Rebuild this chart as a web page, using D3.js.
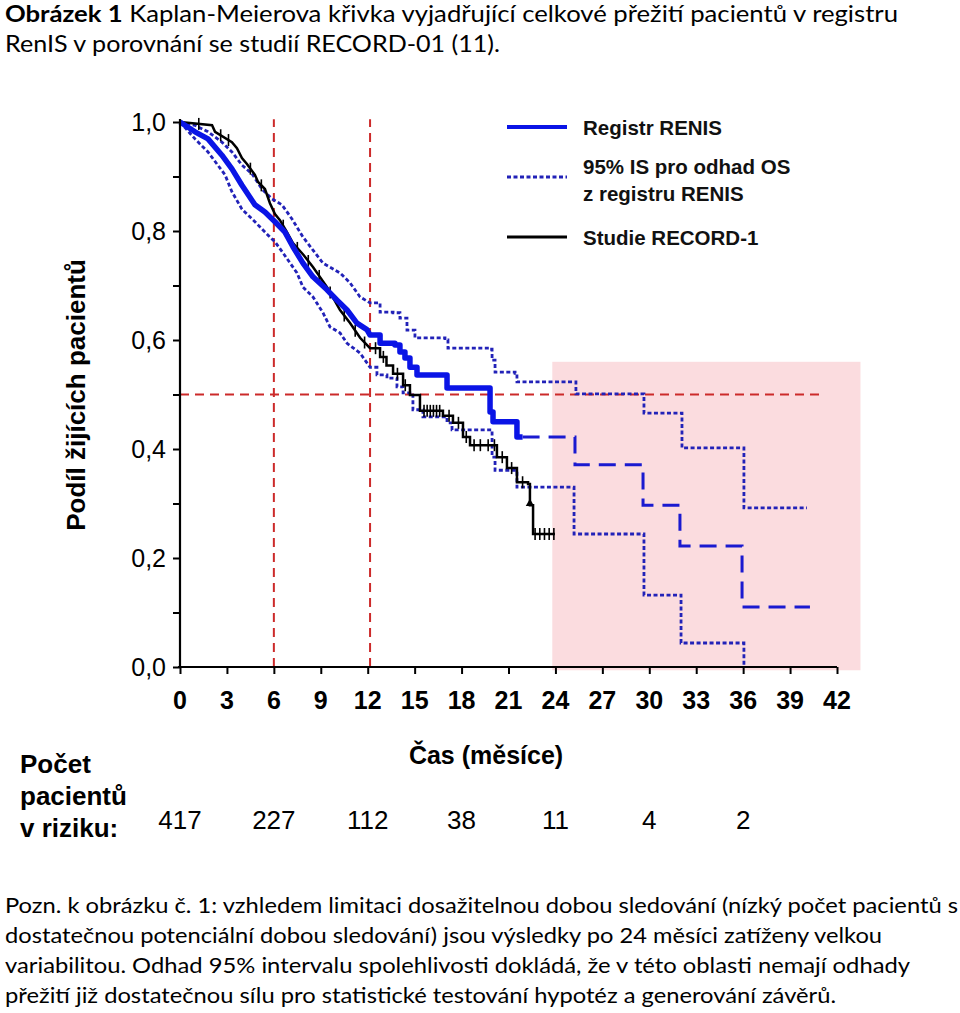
<!DOCTYPE html>
<html><head><meta charset="utf-8">
<script src="https://cdn.jsdelivr.net/npm/d3@7"></script>
<style>body{margin:0;background:#fff}</style>
</head><body>
<svg id="c" width="960" height="1013"></svg>
<script>
// ---------- DATA ----------
const xTicks = [0,3,6,9,12,15,18,21,24,27,30,33,36,39,42];
const yTicks = [0,0.2,0.4,0.6,0.8,1.0];
const yMinor = [0.1,0.3,0.5,0.7,0.9];
// RENIS Kaplan-Meier estimate [month, survival]
const renisKM = [[0,1.0],[0.96,0.982],[1.79,0.969],[2.68,0.939],[3.32,0.914],[3.96,0.884],[4.79,0.848],[5.43,0.835],[6.07,0.817],[6.71,0.798],[7.22,0.771],[7.86,0.741],[8.5,0.716],[9.4,0.692],[10.04,0.673],[10.68,0.655],[11.31,0.631],[11.95,0.619],[12.15,0.609],[12.79,0.594],[13.74,0.591],[14.06,0.578],[14.38,0.567],[14.7,0.55],[15.15,0.536],[17.07,0.512],[19.82,0.468],[20.01,0.45],[21.54,0.422],[21.9,0.422]];
// RENIS estimate beyond the reliable region (dashed)
const renisTail = [[21.9,0.422],[25.25,0.371],[29.6,0.297],[31.96,0.222],[35.93,0.110],[40.27,0.110]];
// 95% CI upper
const ciUpper = [[0,1.0],[0.96,0.994],[1.79,0.982],[2.68,0.963],[3.32,0.945],[3.96,0.921],[4.6,0.905],[5.24,0.877],[5.88,0.859],[6.52,0.848],[7.16,0.822],[7.86,0.789],[8.5,0.765],[9.14,0.741],[10.23,0.723],[10.87,0.705],[11.51,0.679],[12.15,0.668],[12.79,0.651],[13.62,0.65],[14.06,0.64],[14.51,0.618],[15.02,0.604],[16.94,0.6],[17.13,0.585],[19.82,0.583],[19.95,0.563],[20.14,0.541],[21.42,0.539],[21.54,0.523],[25.31,0.501],[29.66,0.466],[32.09,0.402],[36.05,0.292],[40.08,0.292]];
// 95% CI lower
const ciLower = [[0,1.0],[0.96,0.969],[1.79,0.945],[2.88,0.903],[3.32,0.872],[3.96,0.84],[4.79,0.817],[5.43,0.798],[6.07,0.78],[6.58,0.76],[7.48,0.723],[7.86,0.697],[8.5,0.679],[9.14,0.65],[9.59,0.624],[10.23,0.613],[10.68,0.594],[11.51,0.576],[12.15,0.55],[12.59,0.536],[13.23,0.53],[13.87,0.514],[14.26,0.503],[14.89,0.472],[15.53,0.459],[17.07,0.448],[17.39,0.435],[19.82,0.435],[19.95,0.385],[20.14,0.361],[21.54,0.33],[25.19,0.244],[29.66,0.132],[32.03,0.044],[36.05,0.0]];
// RECORD-1 study
const recordKM = [[0,1.0],[2.05,0.994],[2.24,0.982],[3.32,0.963],[3.64,0.952],[3.96,0.934],[4.28,0.923],[4.79,0.903],[4.99,0.89],[5.43,0.877],[5.75,0.851],[6.07,0.831],[6.39,0.82],[6.8,0.8],[7.22,0.778],[7.9,0.756],[8.5,0.734],[9.4,0.697],[9.8,0.677],[10.23,0.655],[10.87,0.631],[11.51,0.604],[12.15,0.585],[12.79,0.569],[13.2,0.553],[13.62,0.538],[14.26,0.517],[14.7,0.499],[15.34,0.47],[16.81,0.461],[17.45,0.448],[18.09,0.422],[18.54,0.407],[20.26,0.385],[20.9,0.365],[21.54,0.339],[22.25,0.336],[22.37,0.297],[22.57,0.244],[23.97,0.244]];
const recordCensor = [1.2,2.6,3.1,4.5,5.2,6.6,7.5,8.2,8.9,9.6,10.5,11.2,11.8,12.5,13.0,13.9,14.4,15.6,15.8,16.0,16.2,16.4,16.6,17.2,17.8,18.3,18.8,19.2,19.7,20.1,20.6,21.2,21.9,22.7,23.0,23.3,23.6,23.9];
const recordTriangle = [[22.37,0.30]];
// months up to which the densely stepped curves are drawn as a continuous trace
const denseUntil = 12.15;
const refVertical = [6, 12.15];
const refHorizontal = [[0,0.5],[40.9,0.5]];
const shadeRegion = {x0:23.8, x1:43.5, y0:-0.006, y1:0.56};
const riskMonths = [0,6,12,18,24,30,36];
const riskCounts = [417,227,112,38,11,4,2];
const legendItems = [
  {lines:["Registr RENIS"], type:"solid"},
  {lines:["95% IS pro odhad OS","z registru RENIS"], type:"dotted"},
  {lines:["Studie RECORD-1"], type:"black"}
];
const noteLines = [
  ["Pozn. k obrázku č. 1: vzhledem limitaci dosažitelnou dobou sledování (nízký počet pacientů s", 953],
  ["dostatečnou potenciální dobou sledování) jsou výsledky po 24 měsíci zatíženy velkou", 877],
  ["variabilitou. Odhad 95% intervalu spolehlivosti dokládá, že v této oblasti nemají odhady", 905],
  ["přežití již dostatečnou sílu pro statistické testování hypotéz a generování závěrů.", 831]
];

// ---------- CHART ----------
const svg = d3.select("#c");
const x = d3.scaleLinear().domain([0,42]).range([180,837]);
const y = d3.scaleLinear().domain([0,1]).range([667,122]);
const F = "'Liberation Sans', Arial, sans-serif";
const TF = "Lato, 'Open Sans', sans-serif";

// Title
const t1 = svg.append("text").attr("x",5).attr("y",22).attr("font-family",TF).attr("font-size",23)
  .attr("textLength",893).attr("lengthAdjust","spacingAndGlyphs");
t1.append("tspan").attr("font-weight","bold").text("Obrázek 1");
t1.append("tspan").text(" Kaplan-Meierova křivka vyjadřující celkové přežití pacientů v registru");
svg.append("text").attr("x",5).attr("y",52).attr("font-family",TF).attr("font-size",23)
  .attr("textLength",495).attr("lengthAdjust","spacingAndGlyphs")
  .text("RenIS v porovnání se studií RECORD-01 (11).");

// shaded region
svg.append("rect").attr("x",x(shadeRegion.x0)).attr("y",y(shadeRegion.y1))
  .attr("width",x(shadeRegion.x1)-x(shadeRegion.x0)).attr("height",y(shadeRegion.y0)-y(shadeRegion.y1))
  .attr("fill","#fbdcdf");

// reference lines
refVertical.forEach(v=>{
  svg.append("line").attr("x1",x(v)).attr("x2",x(v)).attr("y1",y(0)).attr("y2",y(1.005))
    .attr("stroke","#cc2a2a").attr("stroke-width",2).attr("stroke-dasharray","9,6");
});
svg.append("path").attr("d",d3.line().x(d=>x(d[0])).y(d=>y(d[1]))(refHorizontal))
  .attr("stroke","#cc2a2a").attr("stroke-width",2).attr("stroke-dasharray","9,6").attr("fill","none");

const lin = d3.line().x(d=>x(d[0])).y(d=>y(d[1]));
const step = d3.line().x(d=>x(d[0])).y(d=>y(d[1])).curve(d3.curveStepAfter);
// dense early part as a continuous trace, later part as steps
function kmPath(arr){
  const early = arr.filter(d=>d[0]<=denseUntil);
  const late = arr.filter(d=>d[0]>=early[early.length-1][0]);
  return lin(early) + step(late).replace(/^M/,"L");
}
// value of the drawn curve at time t (same rule as kmPath)
function curveVal(arr,t){
  if(t<=denseUntil){
    for(let i=1;i<arr.length;i++){
      if(arr[i][0]>=t){const a=arr[i-1],b=arr[i];return a[1]+(b[1]-a[1])*(t-a[0])/(b[0]-a[0]);}
    }
  }
  let v=arr[0][1];for(const p of arr){if(p[0]<=t)v=p[1];}return v;
}

// CI lines
[ciUpper, ciLower].forEach(arr=>{
  svg.append("path").attr("d",kmPath(arr)).attr("fill","none")
    .attr("stroke","#2222b8").attr("stroke-width",2.8).attr("stroke-dasharray","4,2.5");
});

// RECORD-1 black
svg.append("path").attr("d",kmPath(recordKM)).attr("fill","none")
  .attr("stroke","#000").attr("stroke-width",2.5);
svg.append("g").selectAll("line").data(recordCensor).join("line")
  .attr("x1",d=>x(d)).attr("x2",d=>x(d))
  .attr("y1",d=>y(curveVal(recordKM,d))-6).attr("y2",d=>y(curveVal(recordKM,d))+6)
  .attr("stroke","#000").attr("stroke-width",1.6);
svg.append("g").selectAll("path").data(recordTriangle).join("path")
  .attr("d",d3.symbol().type(d3.symbolTriangle).size(30))
  .attr("transform",d=>`translate(${x(d[0])},${y(d[1])})`).attr("fill","#000");

// RENIS solid
svg.append("path").attr("d",kmPath(renisKM)).attr("fill","none")
  .attr("stroke","#0a14e6").attr("stroke-width",5.5).attr("stroke-linejoin","round");
svg.append("path").attr("d",step(renisTail)).attr("fill","none")
  .attr("stroke","#1a1ad0").attr("stroke-width",3).attr("stroke-dasharray","17,9");

// Axes
const yAxis = svg.append("g").attr("transform",`translate(${x(0)},0)`)
  .call(d3.axisLeft(y).tickValues(yTicks.concat(yMinor)).tickSize(7).tickFormat(""));
yAxis.select(".domain").attr("stroke-width",2.2).attr("d",`M0,${y(0)}V${y(1)-3}`);
yAxis.selectAll(".tick line").attr("stroke-width",2);
svg.append("g").selectAll("text").data(yTicks).join("text")
  .attr("x",166).attr("y",d=>y(d)+9).attr("text-anchor","end")
  .attr("font-family",F).attr("font-size",25).text(d=>d3.format(".1f")(d).replace(".",","));

const xAxis = svg.append("g").attr("transform",`translate(0,${y(0)})`)
  .call(d3.axisBottom(x).tickValues(xTicks).tickSize(7).tickFormat(""));
xAxis.select(".domain").attr("stroke-width",2.2).attr("d",`M${x(0)-2},0H${x(42)}`);
xAxis.selectAll(".tick line").attr("stroke-width",2);
svg.append("g").selectAll("text").data(xTicks).join("text")
  .attr("x",d=>x(d)).attr("y",709).attr("text-anchor","middle")
  .attr("font-family",F).attr("font-weight","bold").attr("font-size",25).text(d=>d);

// Y axis title
svg.append("text").attr("transform","translate(85,395) rotate(-90)").attr("text-anchor","middle")
  .attr("font-family",F).attr("font-weight","bold").attr("font-size",26)
  .text("Podíl žijících pacientů");

// X axis title
svg.append("text").attr("x",486).attr("y",764).attr("text-anchor","middle")
  .attr("font-family",F).attr("font-weight","bold").attr("font-size",25).text("Čas (měsíce)");

// Legend
const lg = svg.append("g");
const legY = [127,177,237];
const textY = [[135],[174,201],[245]];
legendItems.forEach((it,i)=>{
  const ln = lg.append("line").attr("x1",507).attr("x2",567).attr("y1",legY[i]).attr("y2",legY[i]);
  if(it.type==="solid") ln.attr("stroke","#0a14e6").attr("stroke-width",4);
  if(it.type==="dotted") ln.attr("stroke","#2222b8").attr("stroke-width",2.8).attr("stroke-dasharray","4,2.5");
  if(it.type==="black") ln.attr("stroke","#000").attr("stroke-width",3);
  it.lines.forEach((s,j)=>{
    lg.append("text").attr("x",583).attr("y",textY[i][j]).attr("font-family",F)
      .attr("font-weight","bold").attr("font-size",20.5).attr("fill","#111").text(s);
  });
});

// Numbers at risk
const rk = svg.append("g").attr("font-family",F);
[["Počet",773],["pacientů",805],["v riziku:",837]].forEach(d=>{
  rk.append("text").attr("x",20).attr("y",d[1]).attr("font-weight","bold").attr("font-size",26).text(d[0]);
});
rk.selectAll("text.n").data(riskMonths).join("text").attr("class","n")
  .attr("x",d=>x(d)).attr("y",829).attr("text-anchor","middle").attr("font-size",26)
  .text((d,i)=>riskCounts[i]);

// Note
noteLines.forEach((d,i)=>{
  svg.append("text").attr("x",5).attr("y",913+i*30).attr("font-family",TF).attr("font-size",21)
    .attr("textLength",d[1]).attr("lengthAdjust","spacingAndGlyphs").text(d[0]);
});
</script>
</body></html>
